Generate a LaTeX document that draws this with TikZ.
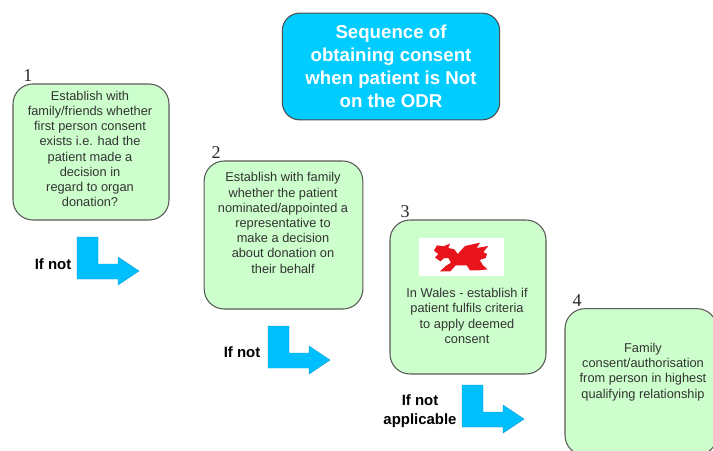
\documentclass[tikz,border=0pt]{standalone}
\usepackage{fontspec}
\setmainfont{Liberation Sans}
\newfontfamily\numfont{Liberation Serif}
\usetikzlibrary{positioning}
\tikzset{
    stepbox/.style = {rectangle, rounded corners=15pt, draw=black!65, line width=0.8pt, fill=stepgreen, inner sep=0pt},
    titlebox/.style = {rectangle, rounded corners=13pt, draw=black!70, line width=0.8pt, fill=titleblue, inner sep=0pt, align=center, text=white, font=\fontsize{14}{17.2}\selectfont\bfseries},
    steptext/.style = {align=center, inner sep=0pt, text=black!80, font=\fontsize{9.6}{11.4}\selectfont},
    stepnum/.style = {inner sep=0pt, text=black!85, font=\fontsize{13.5}{14}\selectfont\numfont},
    ifnot/.style = {align=center, inner sep=0pt, font=\fontsize{11.2}{14.2}\selectfont\bfseries},
    bentarrow/.style = {fill=arrowblue, draw=arrowblue!80!black, line width=0.3pt}
}
\definecolor{stepgreen}{HTML}{CCFFCC}
\definecolor{titleblue}{HTML}{00CCFF}
\definecolor{arrowblue}{HTML}{00BFFF}
\definecolor{dragonred}{HTML}{E8141C}
\newcommand{\bentshape}[2]{%
  \draw[bentarrow] (#1,#2) -- ++(21,0) -- ++(0,27) -- ++(20,0) -- ++(0,-7)
    -- ++(21,14) -- ++(-21,14) -- ++(0,-6) -- ++(-41,0) -- cycle;}
\begin{document}
\begin{tikzpicture}[x=0.75pt,y=-0.75pt]
  \useasboundingbox (0,0) rectangle (713,450);

  \node[titlebox, minimum width=163pt, minimum height=80pt] (title) at (391,66.5)
    {Sequence of\\obtaining consent\\when patient is Not\\on the ODR};

  \node[stepbox, minimum width=117pt, minimum height=102pt] (box1) at (91,152) {};
  \node[stepbox, minimum width=119pt, minimum height=111pt] (box2) at (283.5,235) {};
  \node[stepbox, minimum width=117pt, minimum height=115.5pt] (box3) at (468,297) {};
  \node[stepbox, minimum width=114pt, minimum height=110pt] (box4) at (641,382) {};

  \node[stepnum] (num1) at (28,76) {1};
  \node[stepnum] (num2) at (216,153) {2};
  \node[stepnum] (num3) at (405,212) {3};
  \node[stepnum] (num4) at (577,301) {4};

  \node[steptext] (text1) at (90,149)
    {Establish with\\family/friends whether\\first person consent\\exists i.e. had the\\patient made a\\decision in\\regard to organ\\donation?};
  \node[steptext] (text2) at (283,223)
    {Establish with family\\whether the patient\\nominated/appointed a\\representative to\\make a decision\\about donation on\\their behalf};
  \node[steptext] (text3) at (467,316)
    {In Wales - establish if\\patient fulfils criteria\\to apply deemed\\consent};
  \node[steptext] (text4) at (643,372)
    {Family\\consent/authorisation\\from person in highest\\qualifying relationship};

  \node[fill=white, minimum width=64pt, minimum height=28.5pt, inner sep=0pt] (flag) at (461.5,257) {};
  \begin{scope}[shift={(415,232)},x=0.25pt,y=-0.25pt]
    \fill[dragonred] (57,55) -- (66,40) -- (85,43) -- (105,35) -- (100,48) -- (118,52) -- (128,66)
      -- (150,42) -- (195,32) -- (185,48) -- (220,42) -- (205,60) -- (216,66) -- (212,78)
      -- (194,84) -- (204,100) -- (218,112) -- (190,115) -- (165,115) -- (155,100) -- (122,100)
      -- (106,118) -- (75,118) -- (92,102) -- (108,92) -- (100,78) -- (88,78) -- (76,88)
      -- (60,76) -- (70,66) -- (62,60) -- cycle;
  \end{scope}

  \bentshape{77}{237}
  \bentshape{268}{326}
  \bentshape{462}{385}

  \node[ifnot] (ifnot1) at (53,264) {If not};
  \node[ifnot] (ifnot2) at (242,352) {If not};
  \node[ifnot] (ifnot3) at (420,411.5) {If not\\applicable};
\end{tikzpicture}
\end{document}
